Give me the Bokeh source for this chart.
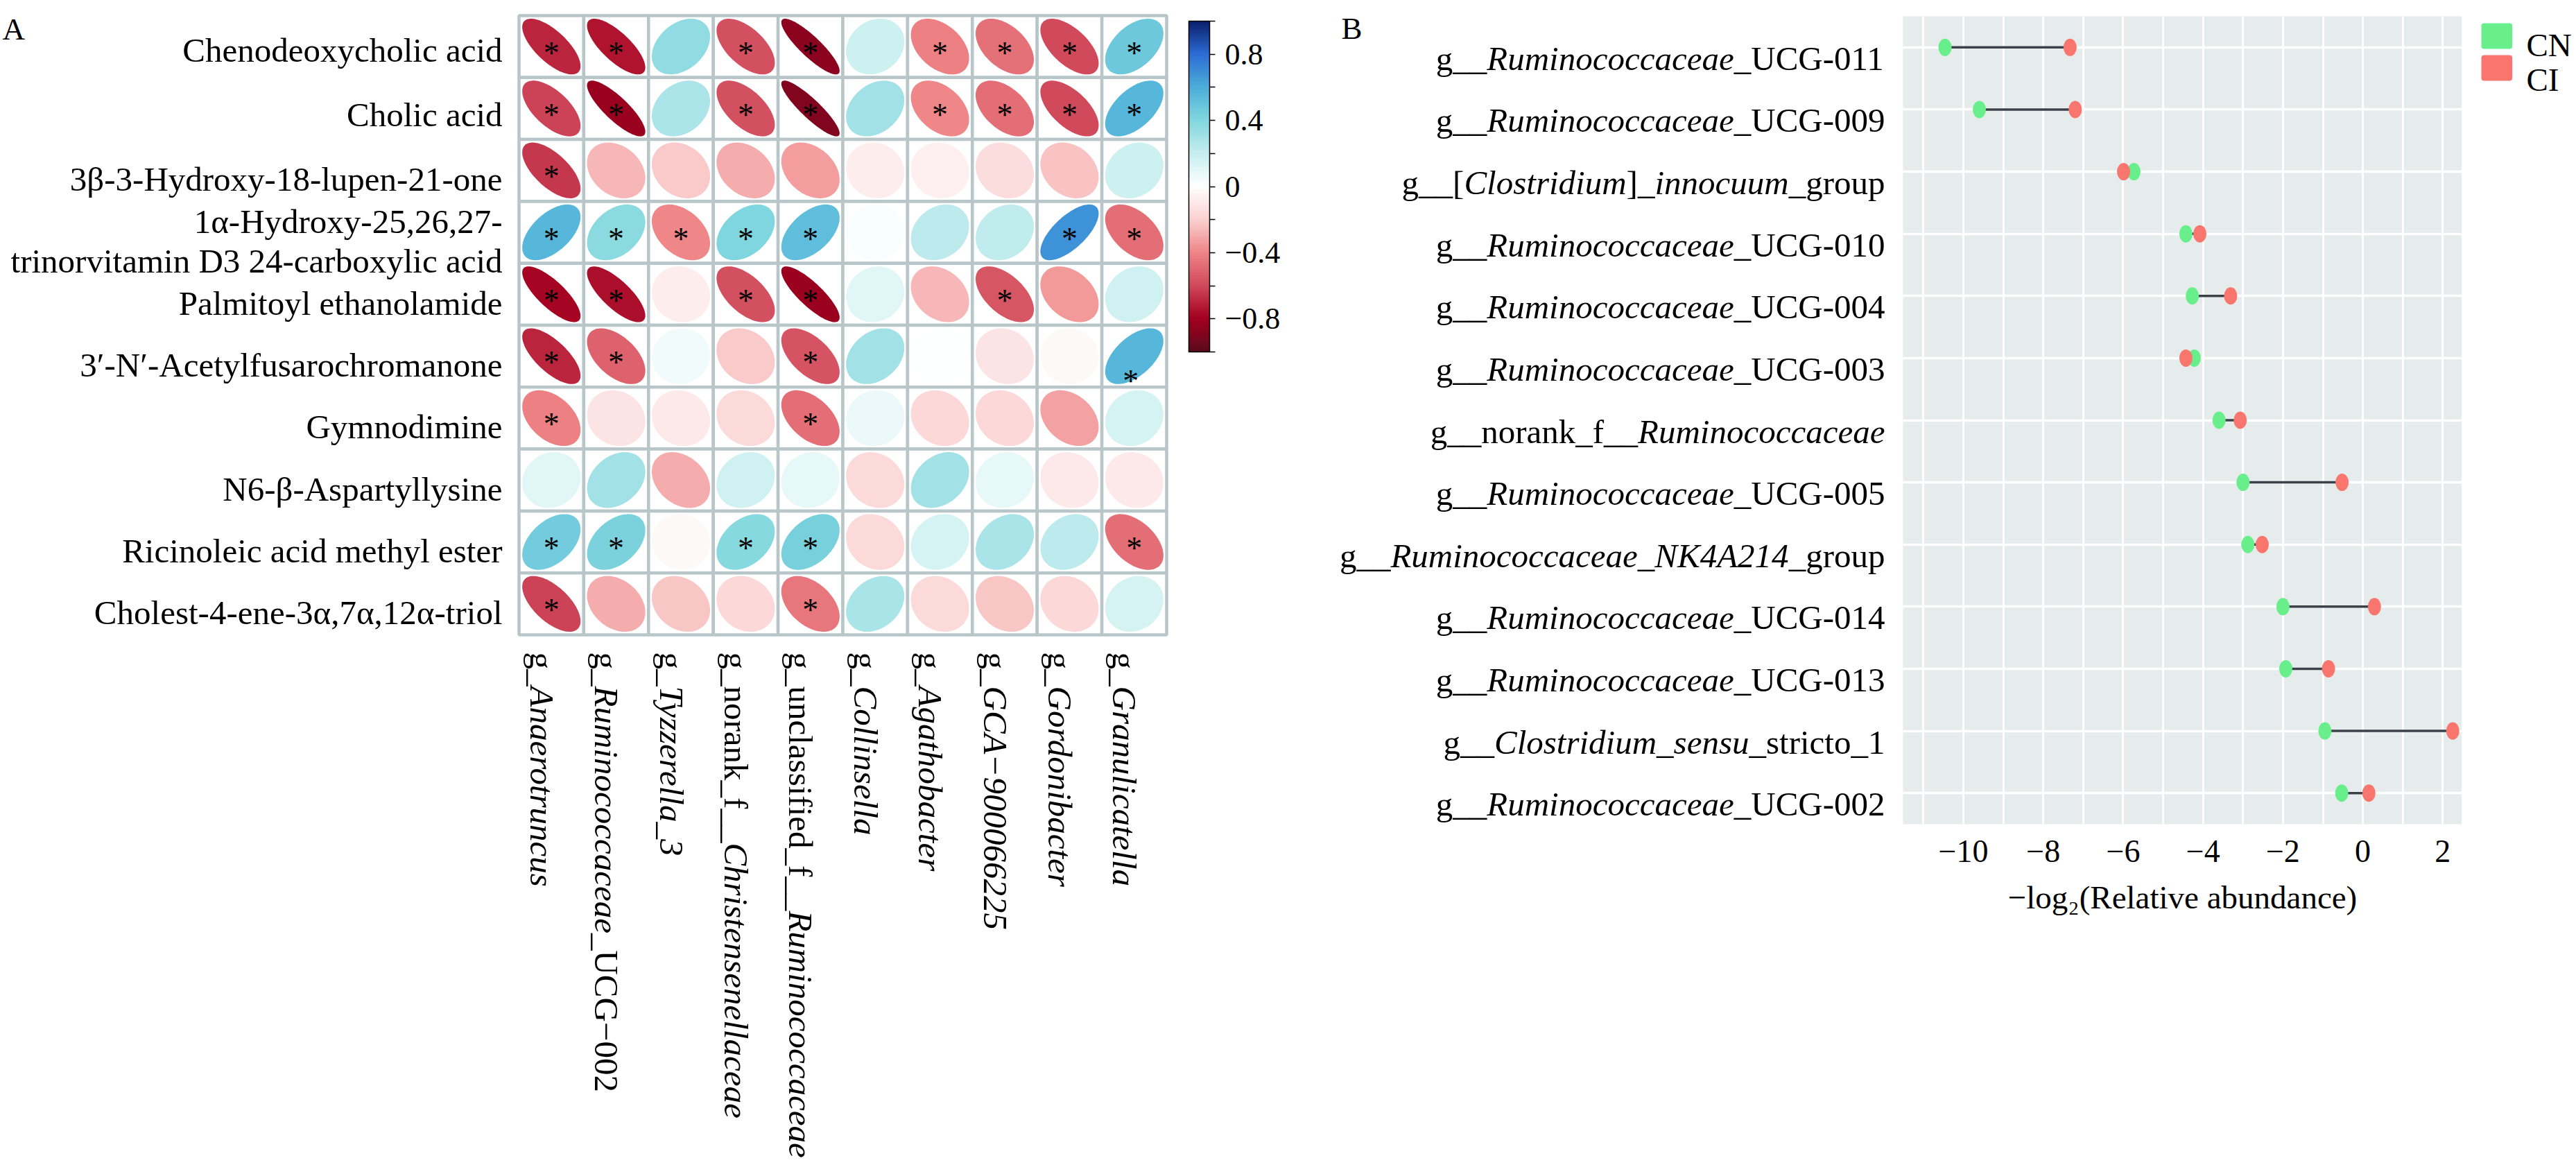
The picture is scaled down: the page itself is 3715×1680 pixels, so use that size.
import numpy as np
from bokeh.plotting import figure
from bokeh.layouts import row, column
from bokeh.models import (Range1d, FactorRange, ColorBar, LinearColorMapper, FixedTicker,
                          CustomJSTickFormatter, ColumnDataSource)
from bokeh.transform import linear_cmap
from bokeh.core.properties import value
from bokeh.embed import file_html
from bokeh.resources import INLINE

FONT = "Liberation Serif"

# ======================= DATA : panel A =======================
metabolites = ["Chenodeoxycholic acid", "Cholic acid", "3β-3-Hydroxy-18-lupen-21-one",
               "1α-Hydroxy-25,26,27-trinorvitamin D3 24-carboxylic acid",
               "Palmitoyl ethanolamide", "3′-N′-Acetylfusarochromanone", "Gymnodimine",
               "N6-β-Aspartyllysine", "Ricinoleic acid methyl ester",
               "Cholest-4-ene-3α,7α,12α-triol"]
metabolite_lines = [["Chenodeoxycholic acid"], ["Cholic acid"], ["3β-3-Hydroxy-18-lupen-21-one"],
                    ["1α-Hydroxy-25,26,27-", "trinorvitamin D3 24-carboxylic acid"],
                    ["Palmitoyl ethanolamide"], ["3′-N′-Acetylfusarochromanone"], ["Gymnodimine"],
                    ["N6-β-Aspartyllysine"], ["Ricinoleic acid methyl ester"],
                    ["Cholest-4-ene-3α,7α,12α-triol"]]
# (text, italic) segments of the genus labels
genera_segments = [
    [("g_", 0), ("Anaerotruncus", 1)],
    [("g_", 0), ("Ruminococcaceae", 1), ("_UCG−002", 0)],
    [("g_", 0), ("Tyzzerella_3", 1)],
    [("g_norank_f__", 0), ("Christensenellaceae", 1)],
    [("g_unclassified_f__", 0), ("Ruminococcaceae", 1)],
    [("g_", 0), ("Collinsella", 1)],
    [("g_", 0), ("Agathobacter", 1)],
    [("g_", 0), ("GCA−900066225", 1)],
    [("g_", 0), ("Gordonibacter", 1)],
    [("g_", 0), ("Granulicatella", 1)],
]
corr = [
    [-0.70, -0.75, 0.35, -0.58, -0.87, 0.18, -0.42, -0.47, -0.60, 0.47],
    [-0.62, -0.83, 0.27, -0.58, -0.89, 0.30, -0.40, -0.48, -0.60, 0.55],
    [-0.65, -0.27, -0.22, -0.30, -0.33, -0.08, -0.06, -0.15, -0.24, 0.18],
    [0.55, 0.37, -0.40, 0.40, 0.52, 0.02, 0.22, 0.21, 0.68, -0.48],
    [-0.78, -0.76, -0.07, -0.58, -0.83, 0.10, -0.27, -0.55, -0.35, 0.17],
    [-0.70, -0.52, 0.04, -0.22, -0.57, 0.30, 0.00, -0.12, -0.03, 0.55],
    [-0.42, -0.12, -0.10, -0.16, -0.48, 0.06, -0.17, -0.17, -0.32, 0.14],
    [0.10, 0.30, -0.30, 0.17, 0.08, -0.16, 0.30, 0.08, -0.10, -0.10],
    [0.45, 0.42, -0.03, 0.38, 0.43, -0.16, 0.15, 0.28, 0.22, -0.48],
    [-0.62, -0.30, -0.23, -0.17, -0.45, 0.28, -0.16, -0.23, -0.17, 0.15],
]
sig = [
    [1, 1, 0, 1, 1, 0, 1, 1, 1, 1],
    [1, 1, 0, 1, 1, 0, 1, 1, 1, 1],
    [1, 0, 0, 0, 0, 0, 0, 0, 0, 0],
    [1, 1, 1, 1, 1, 0, 0, 0, 1, 1],
    [1, 1, 0, 1, 1, 0, 0, 1, 0, 0],
    [1, 1, 0, 0, 1, 0, 0, 0, 0, 1],
    [1, 0, 0, 0, 1, 0, 0, 0, 0, 0],
    [0, 0, 0, 0, 0, 0, 0, 0, 0, 0],
    [1, 1, 0, 1, 1, 0, 0, 0, 0, 1],
    [1, 0, 0, 0, 1, 0, 0, 0, 0, 0],
]
cbar_ticks = [-0.8, -0.4, 0, 0.4, 0.8]
cbar_minor_ticks = [-1, -0.6, -0.2, 0.2, 0.6, 1]

# ======================= DATA : panel B =======================
taxa_B = ["g__Ruminococcaceae_UCG-011", "g__Ruminococcaceae_UCG-009",
          "g__[Clostridium]_innocuum_group", "g__Ruminococcaceae_UCG-010",
          "g__Ruminococcaceae_UCG-004", "g__Ruminococcaceae_UCG-003",
          "g__norank_f__Ruminococcaceae", "g__Ruminococcaceae_UCG-005",
          "g__Ruminococcaceae_NK4A214_group", "g__Ruminococcaceae_UCG-014",
          "g__Ruminococcaceae_UCG-013", "g__Clostridium_sensu_stricto_1",
          "g__Ruminococcaceae_UCG-002"]
taxa_B_segments = [
    [("g__", 0), ("Ruminococcaceae", 1), ("_UCG-011", 0)],
    [("g__", 0), ("Ruminococcaceae", 1), ("_UCG-009", 0)],
    [("g__[", 0), ("Clostridium", 1), ("]_", 0), ("innocuum", 1), ("_group", 0)],
    [("g__", 0), ("Ruminococcaceae", 1), ("_UCG-010", 0)],
    [("g__", 0), ("Ruminococcaceae", 1), ("_UCG-004", 0)],
    [("g__", 0), ("Ruminococcaceae", 1), ("_UCG-003", 0)],
    [("g__norank_f__", 0), ("Ruminococcaceae", 1)],
    [("g__", 0), ("Ruminococcaceae", 1), ("_UCG-005", 0)],
    [("g__", 0), ("Ruminococcaceae_NK4A214", 1), ("_group", 0)],
    [("g__", 0), ("Ruminococcaceae", 1), ("_UCG-014", 0)],
    [("g__", 0), ("Ruminococcaceae", 1), ("_UCG-013", 0)],
    [("g__", 0), ("Clostridium_sensu", 1), ("_stricto_1", 0)],
    [("g__", 0), ("Ruminococcaceae", 1), ("_UCG-002", 0)],
]
cn_values = [-10.46, -9.60, -5.73, -4.43, -4.27, -4.22, -3.60, -3.00, -2.88, -2.00, -1.93, -0.95, -0.53]
ci_values = [-7.33, -7.20, -5.99, -4.08, -3.31, -4.43, -3.07, -0.52, -2.52, 0.29, -0.86, 2.25, 0.15]
groups = ["CN", "CI"]
x_ticks_B = [-10, -8, -6, -4, -2, 0, 2]
x_minor_ticks_B = [-11, -9, -7, -5, -3, -1, 1]

# ======================= styles =======================
GREEN = "#68EF8B"
RED = "#F8766D"
GRIDGRAY = "#B8C6C9"
stops = [(-1.0, "#5E0A1C"), (-0.8, "#A3001F"), (-0.6, "#D0495B"), (-0.4, "#EF8587"),
         (-0.2, "#FBD0D0"), (0.0, "#FFFFFF"), (0.2, "#C6EEEF"), (0.4, "#82D7DE"),
         (0.6, "#4CAFD9"), (0.8, "#2C6DD6"), (1.0, "#0B206F")]


def _hex2rgb(h):
    return [int(h[i:i + 2], 16) for i in (1, 3, 5)]


sv = np.array([s[0] for s in stops])
sc = np.array([_hex2rgb(s[1]) for s in stops], dtype=float)
palette = []
for t in np.linspace(-1, 1, 200):
    rgb = [np.interp(t, sv, sc[:, c]) for c in range(3)]
    palette.append("#%02x%02x%02x" % tuple(int(round(v)) for v in rgb))

# Times-compatible advance widths (per 1000 em) for Liberation Serif
REG = dict(zip("ABCDEFGHIJKLMNOPQRSTUVWXYZ",
               [722, 667, 667, 722, 611, 556, 722, 722, 333, 389, 722, 611, 889, 722, 722, 556, 722, 667, 556, 611, 722, 722, 944, 722, 722, 611]))
REG.update(zip("abcdefghijklmnopqrstuvwxyz",
               [444, 500, 444, 500, 444, 333, 500, 500, 278, 278, 500, 278, 778, 500, 500, 500, 500, 333, 389, 278, 500, 500, 722, 500, 500, 444]))
REG.update({"_": 500, "-": 333, "−": 564, "[": 333, "]": 333, " ": 250})
ITA = dict(zip("ABCDEFGHIJKLMNOPQRSTUVWXYZ",
               [611, 611, 667, 722, 611, 611, 722, 722, 333, 444, 667, 556, 833, 667, 722, 611, 722, 611, 500, 556, 722, 611, 833, 611, 556, 556]))
ITA.update(zip("abcdefghijklmnopqrstuvwxyz",
               [500, 500, 444, 500, 444, 278, 500, 500, 278, 278, 444, 278, 722, 500, 500, 500, 500, 389, 389, 278, 500, 444, 667, 444, 444, 389]))
ITA.update({"_": 500, "-": 333, "−": 675, "[": 389, "]": 389, " ": 250})


def text_width(s, italic, size):
    tab = ITA if italic else REG
    return sum(tab.get(ch, 500) for ch in s) * size / 1000.0


# ---------- page geometry (Bokeh page has no body margin) ----------
PAGE_W, FIG_H = 3715, 1680
FT, FB = 23, 1188                  # page y of panel-B frame top / bottom


def no_align(p):
    try:
        p.frame_align = False
    except Exception:
        pass
    return p


def full_fig(w, xr, yr):
    p = figure(width=w, height=FIG_H, x_range=xr, y_range=yr, output_backend="svg",
               toolbar_location=None, x_axis_location=None, y_axis_location=None,
               min_border=0, outline_line_color=None)
    p.grid.visible = False
    return no_align(p)


def add_text(p, x, y, t, size, italic=False, align="left", angle=0.0):
    p.text(x=x, y=y, text=t, angle=angle, text_font=value(FONT), text_font_size=f"{size}px",
           text_font_style="italic" if italic else "normal", text_align=align,
           text_baseline="alphabetic", text_color="black")


# ======================= panel A =======================
nr, nc = len(metabolites), len(genera_segments)
CW, CH = 93.4, 89.3          # cell size in px
GX0, GY0 = 748, 22           # grid top-left on page
FA_W = 1860


def ax(px):
    return (px - GX0) / CW


def ay(py):
    return nr - (py - GY0) / CH


pA = full_fig(FA_W, Range1d(ax(0), ax(FA_W)), Range1d(ay(FIG_H), ay(0)))

ii, jj = np.meshgrid(np.arange(nr), np.arange(nc), indexing="ij")
cx = (jj.ravel() + 0.5)
cy = (nr - ii.ravel() - 0.5)
pA.rect(x=cx, y=cy, width=1, height=1, fill_color="white", line_color=GRIDGRAY, line_width=4.5)

kk = np.linspace(0, 2 * np.pi, 120)
xs, ys, rs = [], [], []
for i in range(nr):
    for j in range(nc):
        r = corr[i][j]
        d = np.arccos(r)
        xs.append(j + 0.5 + 0.45 * np.cos(kk + d / 2))
        ys.append(nr - i - 0.5 + 0.45 * np.cos(kk - d / 2))
        rs.append(r)
pA.patches("xs", "ys", source=ColumnDataSource(dict(xs=xs, ys=ys, r=rs)),
           fill_color=linear_cmap("r", palette, -1, 1), line_color=None)

STAR = 46
STAR_DROP = 9                # px from cell centre down to the asterisk baseline
star_shift = {(5, 9): (-5, 27)}
sx, sy = [], []
for i in range(nr):
    for j in range(nc):
        if sig[i][j]:
            dx, dy = star_shift.get((i, j), (0, 0))
            sx.append(j + 0.5 + dx / CW)
            sy.append(nr - i - 0.5 - (STAR_DROP + dy) / CH)
add_text(pA, sx, sy, ["*"] * len(sx), STAR, align="center")

# row labels
LAB = 49
row_nudge = [8, 4, 0, 0, 0, 0, 0, 0, 0, 0]      # px upward
rx, ry, rt = [], [], []
for i, lines in enumerate(metabolite_lines):
    c = nr - i - 0.5 + row_nudge[i] / CH
    if len(lines) == 1:
        rx.append(ax(724)); ry.append(c - 13 / CH); rt.append(lines[0])
    else:
        rx += [ax(724), ax(724)]
        ry += [c + 15.5 / CH, c - 41.5 / CH]
        rt += lines
add_text(pA, rx, ry, rt, LAB, align="right")

# column labels (rotated, mixed italic)
seg = {0: dict(x=[], y=[], t=[]), 1: dict(x=[], y=[], t=[])}
for j, parts in enumerate(genera_segments):
    cum = 0.0
    for s, it in parts:
        seg[it]["x"].append(j + 0.5 - 14 / CW)
        seg[it]["y"].append(ay(940) - cum / CH)
        seg[it]["t"].append(s)
        cum += text_width(s, it, LAB)
for it in (0, 1):
    add_text(pA, seg[it]["x"], seg[it]["y"], seg[it]["t"], LAB, italic=bool(it), angle=-np.pi / 2)

add_text(pA, [ax(3)], [ay(41)], ["A"], 45)

mapper = LinearColorMapper(palette=palette, low=-1, high=1)
cbar = ColorBar(color_mapper=mapper, location=(1714, FIG_H - 507), width=30, height=477,
                padding=0, margin=0,
                ticker=FixedTicker(ticks=cbar_ticks, minor_ticks=cbar_minor_ticks),
                formatter=CustomJSTickFormatter(code="return tick == 0 ? '0' : (tick < 0 ? '\u2212' : '') + Math.abs(tick).toFixed(1);"),
                major_label_text_font=FONT, major_label_text_font_size="44px",
                major_label_text_color="black",
                major_tick_out=8, major_tick_in=0, minor_tick_out=8, minor_tick_in=0,
                major_tick_line_color="black", minor_tick_line_color="black",
                major_tick_line_width=1.5, minor_tick_line_width=1.5,
                bar_line_color="black", bar_line_width=1.5, label_standoff=14,
                background_fill_alpha=0, border_line_color=None)
pA.add_layout(cbar)

# ======================= panel B =======================
nB = len(taxa_B)
PPU_B = (FB - FT) / nB
BL_X0 = FA_W                     # page x of label figure
FB_X0, FB_X1 = 2744, 3550        # page x of plot panel
BL_W = FB_X0 - BL_X0
FB_W = FB_X1 - FB_X0
LG_W = PAGE_W - FB_X1

# label figure: x in px from its left edge, y in the same units as the factor range
pBL = full_fig(BL_W, Range1d(0, BL_W), Range1d(nB - (FIG_H - FT) / PPU_B, nB + FT / PPU_B))
BLAB = 49
segB = {0: dict(x=[], y=[], t=[]), 1: dict(x=[], y=[], t=[])}
RIGHT = 2718 - BL_X0
for i, parts in enumerate(taxa_B_segments):
    tot = sum(text_width(s, it, BLAB) for s, it in parts)
    cum = RIGHT - tot
    for s, it in parts:
        segB[it]["x"].append(cum)
        segB[it]["y"].append(nB - i - 0.5 - 16 / PPU_B)
        segB[it]["t"].append(s)
        cum += text_width(s, it, BLAB)
for it in (0, 1):
    add_text(pBL, segB[it]["x"], segB[it]["y"], segB[it]["t"], BLAB, italic=bool(it))
add_text(pBL, [1934 - BL_X0], [nB + (FT - 40) / PPU_B], ["B"], 45)

pB = figure(width=FB_W, height=FIG_H, y_range=FactorRange(factors=taxa_B[::-1]),
            x_range=Range1d(-11.51, 2.48), output_backend="svg", toolbar_location=None,
            y_axis_location=None, min_border_left=0, min_border_right=0,
            min_border_top=FT, min_border_bottom=FIG_H - FB,
            background_fill_color="#E6EBEB", outline_line_color=None)
no_align(pB)
pB.xaxis.ticker = FixedTicker(ticks=x_ticks_B, minor_ticks=x_minor_ticks_B)
pB.xaxis.formatter = CustomJSTickFormatter(code="return tick < 0 ? '\u2212' + Math.abs(tick) : String(tick);")
pB.xaxis.axis_line_color = None
pB.xaxis.major_tick_line_color = None
pB.xaxis.minor_tick_line_color = None
pB.xaxis.major_label_text_font = FONT
pB.xaxis.major_label_text_font_size = "46px"
pB.xaxis.major_label_text_color = "black"
pB.xaxis.major_label_standoff = 17
pB.xaxis.axis_label = "−log₂(Relative abundance)"
pB.xaxis.axis_label_text_font = FONT
pB.xaxis.axis_label_text_font_size = "47px"
pB.xaxis.axis_label_text_font_style = "normal"
pB.xaxis.axis_label_text_color = "black"
pB.xaxis.axis_label_standoff = 22
pB.xgrid.grid_line_color = "white"
pB.xgrid.grid_line_width = 3
pB.xgrid.minor_grid_line_color = "white"
pB.xgrid.minor_grid_line_width = 3
pB.ygrid.grid_line_color = "white"
pB.ygrid.grid_line_width = 3.5

srcB = ColumnDataSource(dict(taxa=taxa_B, cn=cn_values, ci=ci_values))
pB.segment(x0="cn", y0="taxa", x1="ci", y1="taxa", source=srcB, line_color="#3A4148", line_width=3.5)
pB.ellipse(x="cn", y="taxa", width=19, height=25, width_units="screen", height_units="screen",
           source=srcB, fill_color=GREEN, line_color=None)
pB.ellipse(x="ci", y="taxa", width=19, height=25, width_units="screen", height_units="screen",
           source=srcB, fill_color=RED, line_color=None)

# legend figure (keys + labels), y measured downward in page px
pL = full_fig(LG_W, Range1d(0, LG_W), Range1d(FIG_H, 0))
key_top = [33, 79]
pL.quad(left=[28, 28], right=[72.6, 72.6], top=key_top, bottom=[k + 37 for k in key_top],
        fill_color=[GREEN, RED], line_color=None, border_radius=4)
add_text(pL, [93, 93], [64, 114], groups, 47)

layout = row(column(pA), column(pBL), pB, column(pL), spacing=0)
open("out.html", "w").write(file_html(layout, INLINE))
